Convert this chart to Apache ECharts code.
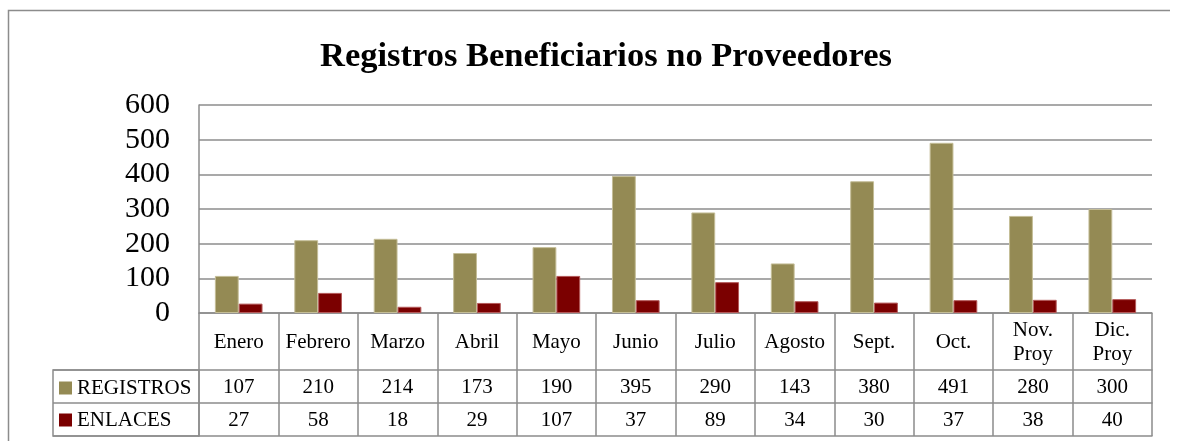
<!DOCTYPE html>
<html>
<head>
<meta charset="utf-8">
<script src="https://cdn.jsdelivr.net/npm/echarts@6/dist/echarts.min.js"></script>
<style>
html,body{margin:0;padding:0;background:#fff;}
#c{width:1179px;height:441px;}
</style>
</head>
<body>
<div id="c"></div>
<script>
const TITLE = 'Registros Beneficiarios no Proveedores';
const MONTHS = ['Enero','Febrero','Marzo','Abril','Mayo','Junio','Julio','Agosto','Sept.','Oct.','Nov.\nProy','Dic.\nProy'];
const REGISTROS = [107,210,214,173,190,395,290,143,380,491,280,300];
const ENLACES = [27,58,18,29,107,37,89,34,30,37,38,40];
const Y_MIN = 0, Y_MAX = 600, Y_STEP = 100;

const FONT = "'Liberation Serif','Times New Roman',serif";
const LINE = '#8c8c8c';
const LW = 1.5;

const legendBase = {
  orient:'vertical', left:59, padding:0, itemWidth:13, itemHeight:13, icon:'rect',
  itemStyle:{borderWidth:0},
  textStyle:{fontFamily:FONT, fontSize:21, color:'#000', lineHeight:22}
};

const chart = echarts.init(document.getElementById('c'), null, {renderer:'canvas'});
chart.setOption({
  backgroundColor:'#ffffff',
  animation:false,
  title:{
    text:TITLE, left:315, top:35,
    textStyle:{fontFamily:FONT, fontSize:34.5, fontWeight:'bold', color:'#000'}
  },
  graphic:[{
    type:'polyline', silent:true,
    shape:{points:[[8.5,445],[8.5,10.5],[1170,10.5]]},
    style:{stroke:LINE, lineWidth:LW, fill:null}
  }],
  legend:[
    Object.assign({data:['REGISTROS'], top:377}, legendBase),
    Object.assign({data:['ENLACES'], top:409}, legendBase)
  ],
  grid:[
    {left:199, right:27, top:105, bottom:128, containLabel:false},
    {left:53, top:370, width:146, height:66, show:true, borderColor:LINE, borderWidth:LW, backgroundColor:'transparent'}
  ],
  xAxis:[
    {type:'category', gridIndex:0, data:MONTHS, position:'bottom',
     axisLine:{show:true, lineStyle:{color:LINE, width:LW}},
     axisTick:{show:true, length:123, lineStyle:{color:LINE, width:LW}},
     axisLabel:{interval:0, margin:29, verticalAlign:'middle', fontFamily:FONT, fontSize:21, lineHeight:24, color:'#000'}
    },
    {type:'category', gridIndex:0, data:MONTHS, position:'bottom', offset:57,
     axisLine:{show:true, lineStyle:{color:LINE, width:LW}},
     axisTick:{show:false},
     axisLabel:{interval:0, margin:17, verticalAlign:'middle', fontFamily:FONT, fontSize:21, color:'#000',
       formatter:(v,i)=>String(REGISTROS[i])}
    },
    {type:'category', gridIndex:0, data:MONTHS, position:'bottom', offset:90,
     axisLine:{show:true, lineStyle:{color:LINE, width:LW}},
     axisTick:{show:false},
     axisLabel:{interval:0, margin:17, verticalAlign:'middle', fontFamily:FONT, fontSize:21, color:'#000',
       formatter:(v,i)=>String(ENLACES[i])}
    },
    {type:'category', gridIndex:0, data:MONTHS, position:'bottom', offset:123,
     axisLine:{show:true, lineStyle:{color:LINE, width:LW}},
     axisTick:{show:false}, axisLabel:{show:false}
    },
    {type:'category', gridIndex:1, data:[''], show:false}
  ],
  yAxis:[
    {type:'value', gridIndex:0, min:Y_MIN, max:Y_MAX, interval:Y_STEP,
     axisLine:{show:true, lineStyle:{color:LINE, width:LW}},
     axisTick:{show:false},
     axisLabel:{margin:29, fontFamily:FONT, fontSize:30, color:'#000'},
     splitLine:{show:true, lineStyle:{color:LINE, width:LW}}
    },
    {type:'category', gridIndex:1, data:['REGISTROS','ENLACES'], inverse:true,
     axisLine:{show:false}, axisTick:{show:false}, axisLabel:{show:false},
     splitLine:{show:true, lineStyle:{color:LINE, width:LW}}
    }
  ],
  series:[
    {name:'REGISTROS', type:'bar', xAxisIndex:0, yAxisIndex:0, data:REGISTROS,
     barGap:'0%', barCategoryGap:'40%',
     itemStyle:{color:'#948A54', borderColor:'#c4bd97', borderWidth:1}},
    {name:'ENLACES', type:'bar', xAxisIndex:0, yAxisIndex:0, data:ENLACES,
     barGap:'0%', barCategoryGap:'40%',
     itemStyle:{color:'#7B0000', borderColor:'#b45a5a', borderWidth:1}}
  ]
});
</script>
</body>
</html>
